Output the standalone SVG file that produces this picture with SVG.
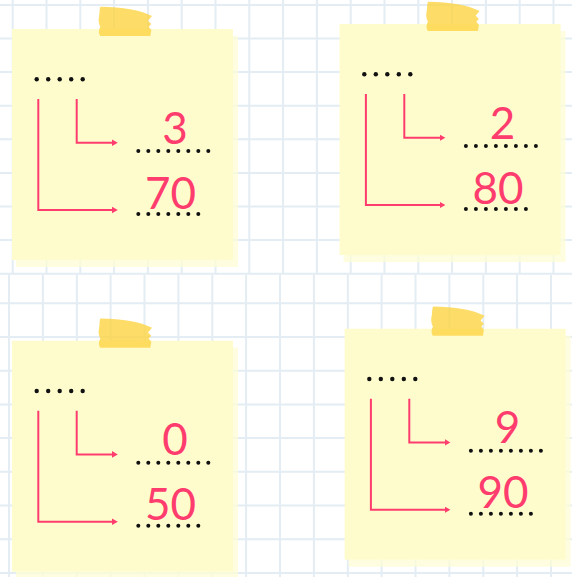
<svg xmlns="http://www.w3.org/2000/svg" xmlns:xlink="http://www.w3.org/1999/xlink" width="572" height="577" viewBox="0 0 572 577">
<style>
.bg{fill:#FFFFFF}
.grid{stroke:#E4EDF3;stroke-width:2;fill:none}
.back{fill:#FEFCD6;opacity:.75}
.paper{fill:#FEFCCD}
.tape{fill:#FCD447;opacity:.82}
.dot{fill:#111111}
.num{font-family:Lato,"Noto Sans",sans-serif;font-size:44px;fill:#FF3C6E;text-anchor:middle}
.conn{stroke:#FF3C6E;stroke-width:2;fill:none;marker-end:url(#ah)}
</style>
<defs>
<marker id="ah" markerUnits="userSpaceOnUse" markerWidth="8" markerHeight="8" viewBox="0 -4 8 8" refX="0.5" refY="0" orient="auto">
<path d="M0,-3.3 L5.8,0 L0,3.3Z" fill="#FF3C6E"/>
</marker>
<path id="tape" d="M88.3,-22.3 Q122,-22 140,-13 L136,-8.3 L139.3,-5 L136.7,-2.3 L139.3,1 L138.3,7 L88.3,7 Q85.5,3 88.3,-2.3 Q85.5,-7 87.3,-14 Q87.3,-19 88.3,-22.3Z"/>
<g id="dots5">
<circle cx="24.7" cy="50.3" r="2.2"/><circle cx="36.2" cy="50.3" r="2.2"/><circle cx="47.7" cy="50.3" r="2.2"/><circle cx="59.2" cy="50.3" r="2.2"/><circle cx="70.7" cy="50.3" r="2.2"/>
</g>
<g id="row8">
<circle cx="126.3" cy="122" r="2"/><circle cx="136.3" cy="122" r="2"/><circle cx="146.3" cy="122" r="2"/><circle cx="156.3" cy="122" r="2"/><circle cx="166.3" cy="122" r="2"/><circle cx="176.3" cy="122" r="2"/><circle cx="186.3" cy="122" r="2"/><circle cx="196.3" cy="122" r="2"/>
</g>
<g id="row7">
<circle cx="126.3" cy="185" r="2"/><circle cx="136.3" cy="185" r="2"/><circle cx="146.3" cy="185" r="2"/><circle cx="156.3" cy="185" r="2"/><circle cx="166.3" cy="185" r="2"/><circle cx="176.3" cy="185" r="2"/><circle cx="186.3" cy="185" r="2"/>
</g>
</defs>
<rect class="bg" x="0" y="0" width="572" height="577"/>
<g id="grid">
<path class="grid" d="M12.7,0V273.7 M46.5,0V273.7 M80.3,0V273.7 M114.1,0V273.7 M147.9,0V273.7 M181.7,0V273.7 M215.5,0V273.7 M249.3,0V273.7 M283.1,0V273.7 M316.9,0V273.7 M350.7,0V273.7 M384.5,0V273.7 M418.3,0V273.7 M452.1,0V273.7 M485.9,0V273.7 M519.7,0V273.7 M553.5,0V273.7 M0,4.9H572 M0,38.5H572 M0,72.1H572 M0,105.7H572 M0,139.3H572 M0,172.9H572 M0,206.5H572 M0,240.1H572 M0,273.7H572"/>
<path class="grid" d="M9,275V577 M42.9,275V577 M76.8,275V577 M110.6,275V577 M144.5,275V577 M178.4,275V577 M212.3,275V577 M246.1,275V577 M280,275V577 M313.9,275V577 M347.8,275V577 M381.6,275V577 M415.5,275V577 M449.4,275V577 M483.3,275V577 M517.1,275V577 M551,275V577 M0,303.3H572 M0,337H572 M0,370.7H572 M0,404.4H572 M0,438.1H572 M0,471.8H572 M0,505.5H572 M0,539.2H572 M0,572.9H572"/>
</g>
<g id="note-1" transform="translate(12,29)">
<rect class="back" x="4" y="7" width="222" height="231"/>
<rect class="paper" x="0" y="0" width="221" height="231"/>
<use xlink:href="#tape" class="tape"/>
<use xlink:href="#dots5" class="dot"/><use xlink:href="#row8" class="dot"/><use xlink:href="#row7" class="dot"/>
<text class="num" x="163" y="114.5">3</text>
<text class="num" x="158.5" y="179.5">70</text>
</g>
<g id="note-2" transform="translate(339.6,24)">
<rect class="back" x="4" y="7" width="222" height="231"/>
<rect class="paper" x="0" y="0" width="221" height="231"/>
<use xlink:href="#tape" class="tape"/>
<use xlink:href="#dots5" class="dot"/><use xlink:href="#row8" class="dot"/><use xlink:href="#row7" class="dot"/>
<text class="num" x="163" y="114.5">2</text>
<text class="num" x="158.5" y="179.5">80</text>
</g>
<g id="note-3" transform="translate(12,340.7)">
<rect class="back" x="4" y="7" width="222" height="231"/>
<rect class="paper" x="0" y="0" width="221" height="231"/>
<use xlink:href="#tape" class="tape"/>
<use xlink:href="#dots5" class="dot"/><use xlink:href="#row8" class="dot"/><use xlink:href="#row7" class="dot"/>
<text class="num" x="163" y="114.5">0</text>
<text class="num" x="158.5" y="179.5">50</text>
</g>
<g id="note-4" transform="translate(344.6,328.7)">
<rect class="back" x="4" y="7" width="222" height="231"/>
<rect class="paper" x="0" y="0" width="221" height="231"/>
<use xlink:href="#tape" class="tape"/>
<use xlink:href="#dots5" class="dot"/><use xlink:href="#row8" class="dot"/><use xlink:href="#row7" class="dot"/>
<text class="num" x="163" y="114.5">9</text>
<text class="num" x="158.5" y="179.5">90</text>
</g>
<g id="connectors">
<g transform="translate(12,29)"><path class="conn" d="M26.3,70V181H100.5"/><path class="conn" d="M64.7,70V113.7H100.5"/></g>
<g transform="translate(339.6,24)"><path class="conn" d="M26.3,70V181H100.5"/><path class="conn" d="M64.7,70V113.7H100.5"/></g>
<g transform="translate(12,340.7)"><path class="conn" d="M26.3,70V181H100.5"/><path class="conn" d="M64.7,70V113.7H100.5"/></g>
<g transform="translate(344.6,328.7)"><path class="conn" d="M26.3,70V181H100.5"/><path class="conn" d="M64.7,70V113.7H100.5"/></g>
</g>
</svg>
